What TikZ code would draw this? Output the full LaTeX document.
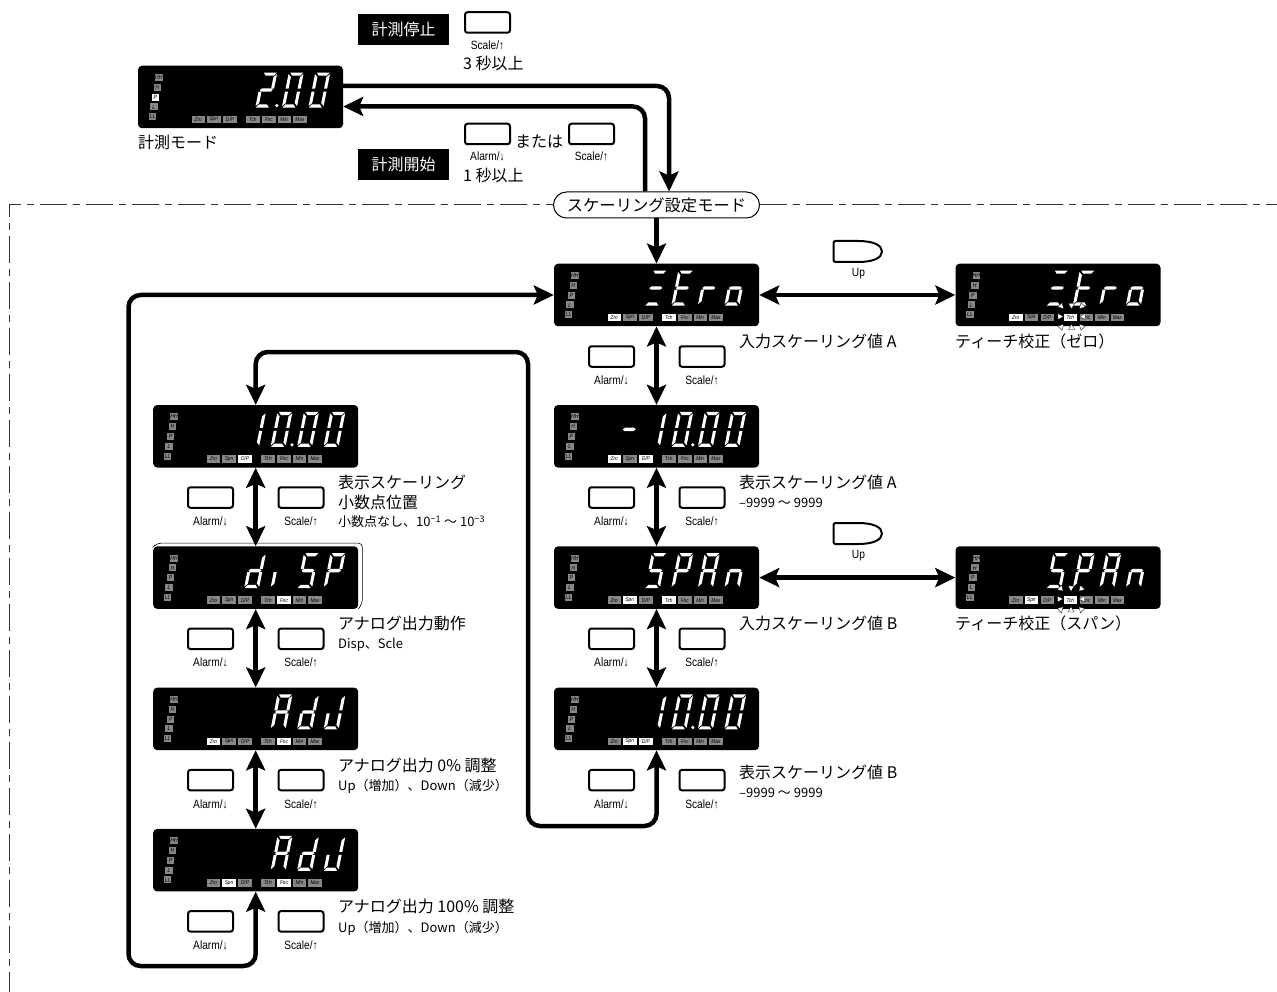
\documentclass[tikz,border=0pt]{standalone}
\usepackage{fontspec}
\setmainfont{Noto Sans CJK JP}
\newfontfamily\keyfont[FakeStretch=0.85]{Liberation Sans}
\usetikzlibrary{arrows.meta, positioning, calc}
\definecolor{lampgrey}{RGB}{135, 135, 135}
\definecolor{framegrey}{RGB}{50, 50, 50}

% segments of one display digit
\newcommand{\sega}{\fill[white] (1.5,0) -- (14.5,0) -- (12,3.2) -- (4,3.2) -- cycle;}
\newcommand{\segb}{\fill[white] (15,1.5) -- (15,16) -- (12,16) -- (12,4.5) -- cycle;}
\newcommand{\segc}{\fill[white] (15,19) -- (15,33.5) -- (12,30.5) -- (12,19) -- cycle;}
\newcommand{\segd}{\fill[white] (0.5,35) -- (13.5,35) -- (11,31.8) -- (3,31.8) -- cycle;}
\newcommand{\sege}{\fill[white] (0,19) -- (3,19) -- (3,30.5) -- (0,33.5) -- cycle;}
\newcommand{\segf}{\fill[white] (0,1.5) -- (3,4.5) -- (3,16) -- (0,16) -- cycle;}
\newcommand{\segg}{\fill[white] (1,17.5) -- (3,15.8) -- (12,15.8) -- (14,17.5) -- (12,19.2) -- (3,19.2) -- cycle;}
\newcommand{\segdigit}[2]{%
  \begin{scope}[shift={(#1+7,7)}, xslant=0.2]
    \foreach \s in {#2}{\csname seg\s\endcsname}
  \end{scope}}
\newcommand{\segdot}{\fill[white] (139,40) circle (1.8);}

% lamps of a panel, then its digits
\newcommand{\panelmarks}[3]{%
  \begin{scope}[shift={(#1.north west)}, #2]
    \foreach \x/\y/\k in {21/12/HH, 19.5/21.8/H, 17.5/31.6/P, 16/41.4/L, 14.7/51.2/LL}{
      \node[lamp, tag \k/.try] (#1-\k) at (\x,\y) {\k};
    }
    \foreach \x/\k/\t in {60.5/Zro/Zro, 76/Spn/Spn, 92/DP/{D/P}, 115/Tch/Tch, 131/Fnc/Fnc, 146.5/Min/Min, 162/Max/Max}{
      \node[tagbox, tag \k/.try] (#1-\k) at (\x,54) {\t};
    }
    #3
  \end{scope}}

\newcommand{\keybtn}[5][8pt]{%
  \node[keybox] (#2) at (#3,#4) {};
  \node[keylabel, below=#1 of #2] (#2-label) {#5};}

\newcommand{\upbtn}[2]{%
  \draw[line width=2pt, fill=white, rounded corners=2pt] (833.5,#2+241) -- (845,#2+241) [rounded corners=0pt] -- (858,#2+241)
    .. controls (873,#2+241) and (882,#2+245) .. (882,#2+251.5)
    .. controls (882,#2+258) and (873,#2+262) .. (858,#2+262) [rounded corners=2pt] -- (833.5,#2+262) -- cycle;
  \node[keylabel] (#1) at (858.5,#2+273.5) {Up};}

% blinking marks round the Tch lamp
\newcommand{\sparks}[2]{%
  \foreach \a/\r in {0/13.5, 45/16.5, 90/13, 135/16.5, 180/13.5, 225/16.5, 270/13, 315/16.5}{
    \fill[white, draw=black, line width=0.3pt, shift={(#1,#2)}, rotate=\a] (\r,-3) -- (\r,3) -- (\r-5.5,0) -- cycle;
  }}

\begin{document}
\begin{tikzpicture}[
    x=1pt, y=-1pt,
    panel/.style={rectangle, rounded corners=4pt, fill=black, minimum width=205pt, minimum height=62.5pt, inner sep=0pt},
    lamp/.style={rectangle, fill=lampgrey, minimum height=7pt, minimum width=7.5pt, inner sep=0pt, font=\keyfont\fontsize{6}{6}\selectfont\itshape},
    tagbox/.style={rectangle, fill=lampgrey, minimum height=7.5pt, minimum width=13.5pt, inner sep=0pt, font=\keyfont\fontsize{5.6}{6}\selectfont\itshape},
    lit/.style={tag #1/.style={fill=white}},
    keybox/.style={rectangle, rounded corners=2.5pt, draw=black, line width=2pt, fill=white, minimum width=45pt, minimum height=20.5pt, inner sep=0pt},
    keylabel/.style={font=\keyfont\fontsize{12}{13}\selectfont, inner sep=0pt},
    title/.style={rectangle, fill=black, text=white, minimum width=91pt, minimum height=31pt, inner sep=0pt, font=\fontsize{16}{18}\selectfont},
    note/.style={anchor=west, inner sep=0pt, font=\fontsize{16}{18}\selectfont},
    notesm/.style={anchor=west, inner sep=0pt, font=\fontsize{13}{15}\selectfont},
    modebox/.style={rectangle, rounded corners=13pt, draw=black, line width=1pt, fill=white, minimum width=206pt, minimum height=26pt, inner sep=0pt, font=\fontsize{16.3}{18}\selectfont},
    arr/.style={-{Stealth[length=20pt,width=19pt,inset=4pt]}, line width=4.5pt},
    arrb/.style={{Stealth[length=20pt,width=19pt,inset=4pt]}-{Stealth[length=20pt,width=19pt,inset=4pt]}, line width=4.5pt},
    frameline/.style={line width=1pt, framegrey, dash pattern=on 27pt off 6pt on 7pt off 6pt},
]
\useasboundingbox (0,0) rectangle (1277,992);

\node[panel] (measure) at (240.5,97) {};
\node[panel] (zero) at (656.5,295) {};
\node[panel] (inputa) at (656.5,436.3) {};
\node[panel] (span) at (656.5,577.6) {};
\node[panel] (inputb) at (656.5,718.9) {};
\node[panel] (teachz) at (1058,295) {};
\node[panel] (teachs) at (1058,577.6) {};
\node[panel] (point) at (255.7,436.3) {};
\node[panel] (disp) at (255.7,577.6) {};
\node[panel] (adjz) at (255.7,718.9) {};
\node[panel] (adjf) at (255.7,860.2) {};

\panelmarks{measure}{lit=P}{\segdigit{117.5}{a,b,g,e,d}\segdot\segdigit{144}{a,b,c,d,e,f}\segdigit{170.5}{a,b,c,d,e,f}}
\panelmarks{zero}{lit=Zro, lit=Tch}{\segdigit{91}{a,g,d}\segdigit{117.5}{a,f,g,e,d}\segdigit{144}{e,g}\segdigit{170.5}{c,d,e,g}}
\panelmarks{inputa}{lit=Zro, lit=DP}{\segdigit{64.5}{g}\segdigit{91}{b,c}\segdigit{117.5}{a,b,c,d,e,f}\segdot\segdigit{144}{a,b,c,d,e,f}\segdigit{170.5}{a,b,c,d,e,f}}
\panelmarks{span}{lit=Spn, lit=Tch}{\segdigit{91}{a,f,g,c,d}\segdigit{117.5}{a,b,f,g,e}\segdigit{144}{a,b,c,e,f,g}\segdigit{170.5}{e,g,c}}
\panelmarks{inputb}{lit=Spn, lit=DP}{\segdigit{91}{b,c}\segdigit{117.5}{a,b,c,d,e,f}\segdot\segdigit{144}{a,b,c,d,e,f}\segdigit{170.5}{a,b,c,d,e,f}}
\panelmarks{teachz}{lit=Zro, lit=Tch}{\segdigit{91}{a,g,d}\segdigit{117.5}{a,f,g,e,d}\segdigit{144}{e,g}\segdigit{170.5}{c,d,e,g}}
\panelmarks{teachs}{lit=Spn, lit=Tch}{\segdigit{91}{a,f,g,c,d}\segdigit{117.5}{a,b,f,g,e}\segdigit{144}{a,b,c,e,f,g}\segdigit{170.5}{e,g,c}}
\panelmarks{point}{lit=DP}{\segdigit{91}{b,c}\segdigit{117.5}{a,b,c,d,e,f}\segdot\segdigit{144}{a,b,c,d,e,f}\segdigit{170.5}{a,b,c,d,e,f}}
\panelmarks{disp}{lit=Fnc}{\segdigit{91}{b,c,d,e,g}\segdigit{117.5}{e}\segdigit{144}{a,f,g,c,d}\segdigit{170.5}{a,b,f,g,e}}
\panelmarks{adjz}{lit=Zro, lit=Fnc}{\segdigit{117.5}{a,b,c,e,f,g}\segdigit{144}{b,c,d,e,g}\segdigit{170.5}{b,c,d,e}}
\panelmarks{adjf}{lit=Spn, lit=Fnc}{\segdigit{117.5}{a,b,c,e,f,g}\segdigit{144}{b,c,d,e,g}\segdigit{170.5}{b,c,d,e}}

\sparks{1071.5}{316.5}
\sparks{1071}{599}

% thin edge round the disp panel
\draw[line width=0.6pt, rounded corners=4pt] ([shift={(2pt,1pt)}]disp.north west) -- ([shift={(4pt,3pt)}]disp.north west) -- ([shift={(4pt,3pt)}]disp.north east) -- ([shift={(4pt,6pt)}]disp.south east) -- ([shift={(0pt,0pt)}]disp.south east);

\node[title] (stop) at (403.5,29.5) {計測停止};
\node[title] (start) at (403.5,164.5) {計測開始};
\keybtn[6.5pt]{stopkey}{487.5}{22.5}{Scale/↑}
\keybtn[6.5pt]{alarmkey}{487.5}{134}{Alarm/↓}
\keybtn[6.5pt]{scalekey}{591.5}{134}{Scale/↑}
\node[note] (threesec) at (463,63) {3 秒以上};
\node[note] (orword) at (515,142) {または};
\node[note] (onesec) at (463,175.5) {1 秒以上};

\node[modebox] (mode) at (656.5,205) {スケーリング設定モード};

% frame
\coordinate (corner) at (9,205);
\coordinate (frameb) at (9,992);
\coordinate (framer) at (1277,205);
\draw[frameline, dash phase=15pt] (corner) -- (mode.west);
\draw[frameline, dash phase=15pt] (corner) -- (frameb);
\draw[frameline] (mode.east) -- (framer);

% keys, right and left columns
\foreach \n/\y in {a/356.5, b/497.5, c/638.8, d/780.1}{
  \keybtn{ralarm\n}{611.5}{\y}{Alarm/↓}
  \keybtn{rscale\n}{702}{\y}{Scale/↑}
}
\foreach \n/\y in {a/497.5, b/638.8, c/780.1, d/921.4}{
  \keybtn{lalarm\n}{210.5}{\y}{Alarm/↓}
  \keybtn{lscale\n}{301}{\y}{Scale/↑}
}
\upbtn{upz}{0}
\upbtn{ups}{282}

% flow
\draw[arr, rounded corners=12pt] ([yshift=11pt]measure.east) -| ([xshift=12.5pt]mode.north);
\draw[arr, rounded corners=12pt] ([xshift=-11.5pt]mode.north) |- ([yshift=-9.5pt]measure.east);
\draw[arr] (mode.south) -- (zero.north);
\draw[arrb] (zero.south) -- (inputa.north);
\draw[arrb] (inputa.south) -- (span.north);
\draw[arrb] (span.south) -- (inputb.north);
\draw[arrb] (zero.east) -- (teachz.west);
\draw[arrb] (span.east) -- (teachs.west);
\draw[arrb] (point.south) -- (disp.north);
\draw[arrb] (disp.south) -- (adjz.north);
\draw[arrb] (adjz.south) -- (adjf.north);

\coordinate (loopa) at (128.5,966);
\coordinate (loopb) at (528,826);
\coordinate (loopc) at (528,352);
\draw[arrb, rounded corners=12pt] (zero.west) -| (loopa) -| (adjf.south);
\draw[arrb, rounded corners=12pt] (inputb.south) |- (loopb) -- (loopc) -| (point.north);

% notes
\node[note] (measurenote) at (138,142.5) {計測モード};
\node[note] (zeronote) at (739,341) {入力スケーリング値 A};
\node[note] (teachznote) at (955,341) {ティーチ校正（ゼロ）};
\node[note] (inputanote) at (739,482.5) {表示スケーリング値 A};
\node[notesm] (inputarange) at (739,503) {–9999 ～ 9999};
\node[note] (spannote) at (739,623.5) {入力スケーリング値 B};
\node[note] (teachsnote) at (955,623.5) {ティーチ校正（スパン）};
\node[note] (inputbnote) at (739,772.5) {表示スケーリング値 B};
\node[notesm] (inputbrange) at (739,793) {–9999 ～ 9999};
\node[note] (pointnote) at (338,482) {表示スケーリング};
\node[note] (pointnoteb) at (338,502) {小数点位置};
\node[notesm] (pointrange) at (338,522) {小数点なし、10\textsuperscript{−1} ～ 10\textsuperscript{−3}};
\node[note] (dispnote) at (338,623.5) {アナログ出力動作};
\node[notesm] (disprange) at (338,645) {Disp、Scle};
\node[note] (adjznote) at (338,765) {アナログ出力 0\% 調整};
\node[notesm] (adjzrange) at (338,786.5) {Up（増加）、Down（減少）};
\node[note] (adjfnote) at (338,906.5) {アナログ出力 100\% 調整};
\node[notesm] (adjfrange) at (338,928) {Up（増加）、Down（減少）};

\end{tikzpicture}
\end{document}
